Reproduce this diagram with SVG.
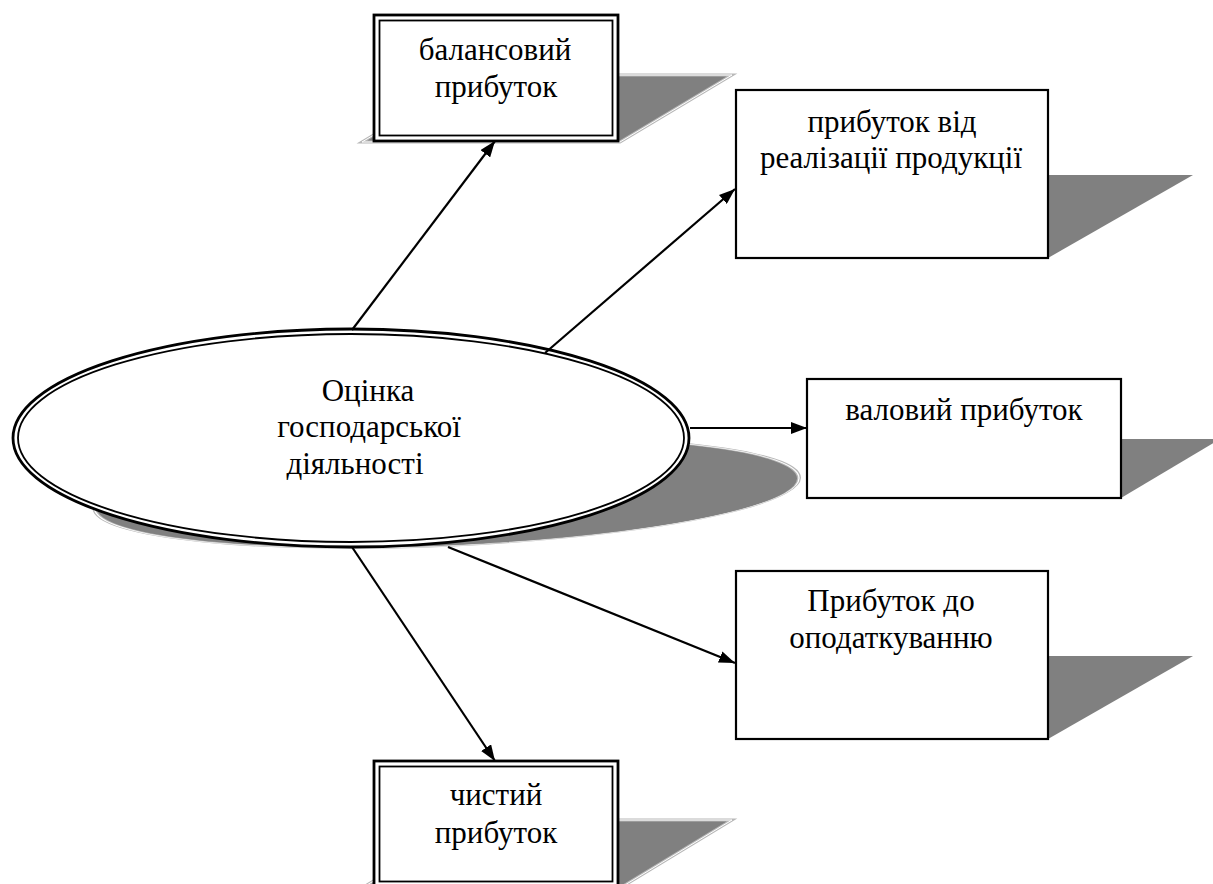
<svg xmlns="http://www.w3.org/2000/svg" width="1213" height="884" viewBox="0 0 1213 884">
<defs>
<style>
.txt{font-family:"Liberation Serif","Times New Roman",serif;font-size:31px;fill:#000;text-anchor:middle}
.box{fill:#fff;stroke:#000;stroke-width:2.2}
.outer{fill:#fff;stroke:#000;stroke-width:2.8}
.inner{fill:none;stroke:#000;stroke-width:1.8}
.shadow{fill:#808080;stroke:none}
.shadowd{fill:#808080;stroke:#b8b8b8;stroke-width:3}
.shadowl{fill:none;stroke:#fff;stroke-width:1}
.conn{stroke:#000;stroke-width:2.2;fill:none;marker-end:url(#arr)}
</style>
<marker id="arr" markerUnits="userSpaceOnUse" markerWidth="16" markerHeight="12" refX="16" refY="6" orient="auto">
<path d="M0,0 L16,6 L0,12 z" fill="#000"/>
</marker>
</defs>
<rect width="1213" height="884" fill="#fff"/>

<g id="node-center">
<g transform="matrix(1,0,-0.87,0.5,476.8,274)">
<ellipse cx="351" cy="438" rx="339" ry="110" class="shadowd"/>
<ellipse cx="351" cy="438" rx="339" ry="110" class="shadowl"/>
</g>
<ellipse cx="351" cy="438" rx="338" ry="109" class="outer"/>
<ellipse cx="351" cy="438" rx="333" ry="104" class="inner"/>
<text class="txt" x="368" y="401">Оцінка</text>
<text class="txt" x="369" y="437">господарської</text>
<text class="txt" x="355" y="474">діяльності</text>
</g>

<g id="node-balance">
<polygon points="362,142 620,142 732,75 474,75" class="shadowd"/>
<polygon points="362,142 620,142 732,75 474,75" class="shadowl"/>
<rect x="374" y="15" width="244" height="126" class="outer"/>
<rect x="379.5" y="20.5" width="233" height="115" class="inner"/>
<text class="txt" x="495" y="60">балансовий</text>
<text class="txt" x="496" y="97">прибуток</text>
</g>

<g id="node-realization">
<polygon points="1048,175 1193,175 1048,258" class="shadow"/>
<rect x="736" y="90" width="312" height="168" class="box"/>
<text class="txt" x="892" y="132">прибуток від</text>
<text class="txt" x="891" y="168">реалізації продукції</text>
</g>

<g id="node-gross">
<polygon points="1121,439 1215,439 1215,442 1121,498" class="shadow"/>
<rect x="807" y="379" width="314" height="119" class="box"/>
<text class="txt" x="964" y="420">валовий прибуток</text>
</g>

<g id="node-pretax">
<polygon points="1048,656 1193,656 1048,739" class="shadow"/>
<rect x="736" y="571" width="312" height="168" class="box"/>
<text class="txt" x="891" y="611">Прибуток до</text>
<text class="txt" x="891" y="648">оподаткуванню</text>
</g>

<g id="node-net">
<polygon points="362,888 620,888 732,820 474,820" class="shadowd"/>
<polygon points="362,888 620,888 732,820 474,820" class="shadowl"/>
<rect x="374" y="761" width="244" height="126" class="outer"/>
<rect x="379.5" y="766.5" width="233" height="115" class="inner"/>
<text class="txt" x="496" y="805">чистий</text>
<text class="txt" x="496" y="843">прибуток</text>
</g>

<g id="connectors">
<line class="conn" x1="352" y1="330" x2="495" y2="141"/>
<line class="conn" x1="545" y1="353" x2="735" y2="189"/>
<line class="conn" x1="690" y1="428" x2="807" y2="428"/>
<line class="conn" x1="448" y1="547" x2="735" y2="663"/>
<line class="conn" x1="352" y1="547" x2="495" y2="761"/>
</g>
</svg>
